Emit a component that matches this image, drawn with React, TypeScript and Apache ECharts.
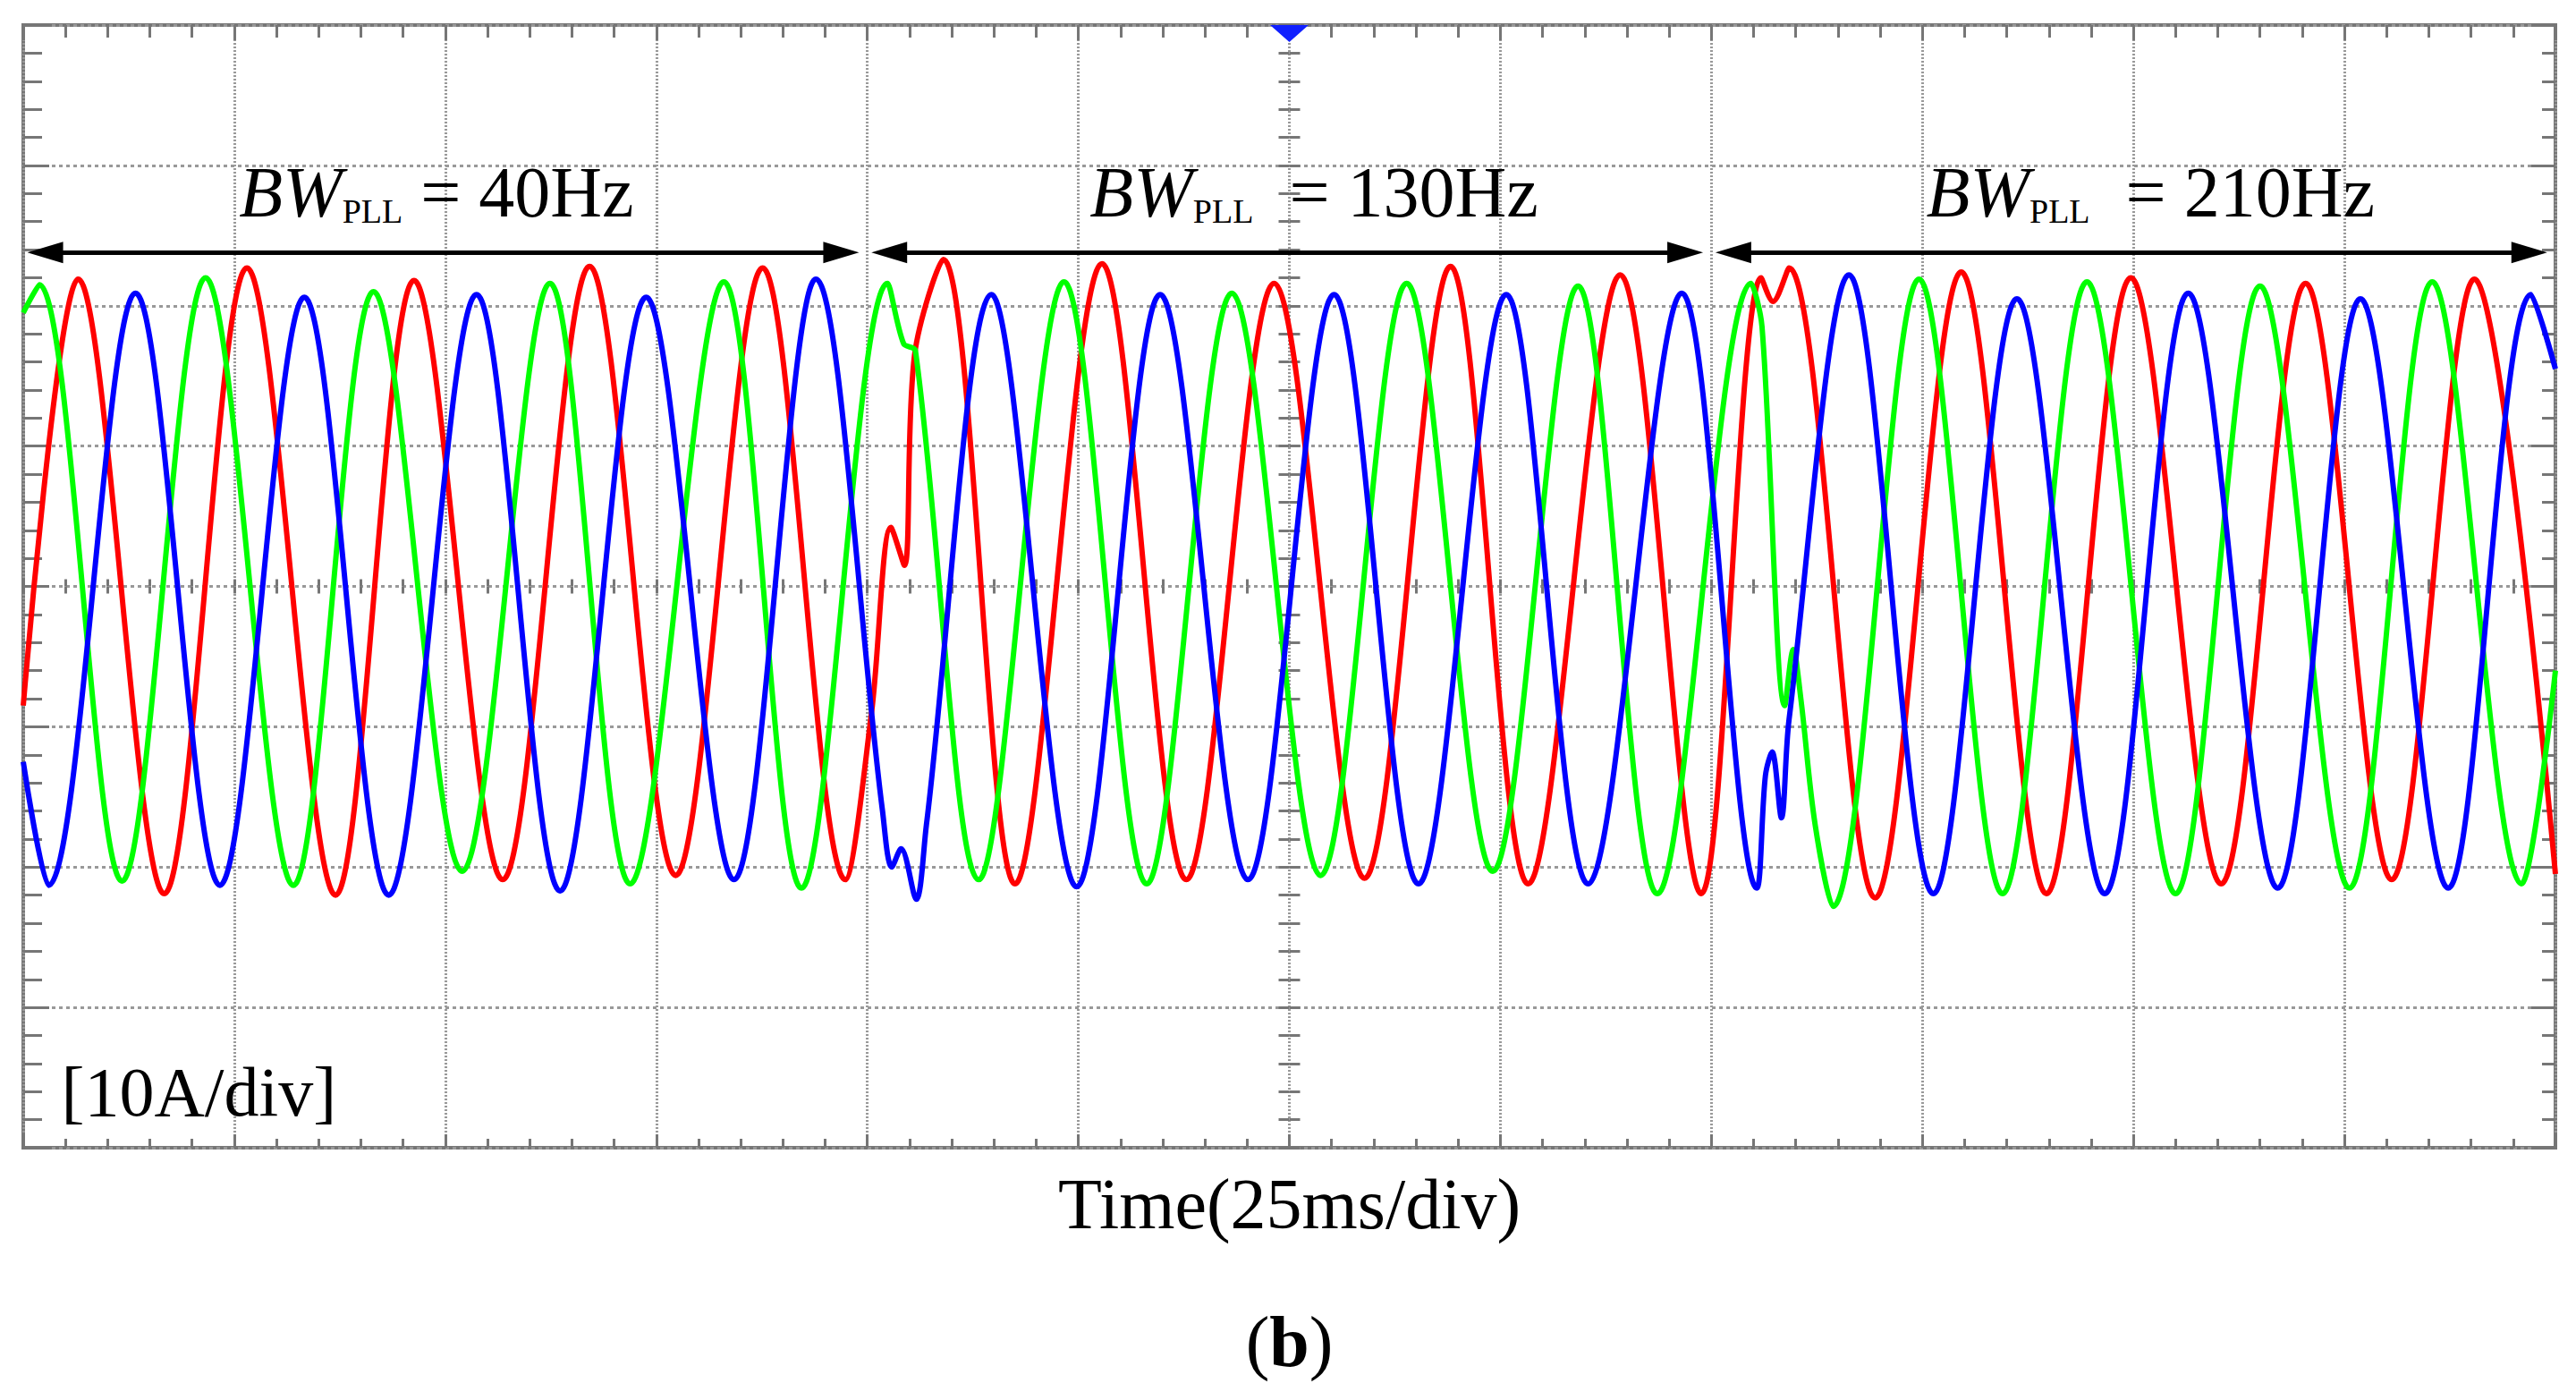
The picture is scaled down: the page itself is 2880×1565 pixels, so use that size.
import React, { useEffect, useRef } from "react";
import * as echarts from "echarts";

// ---------------- data ----------------
// time axis: 0..300 ms (12 div x 25 ms), current axis: -40..40 A (8 div x 10 A)
const TIME_RANGE = [0, 300];
const TIME_DIV = 25;
const CURRENT_RANGE = [-40, 40];
const CURRENT_DIV = 10;

// PLL bandwidth sections (ms)
const sectionBounds = [
  [0, 100],
  [100, 200],
  [200, 300],
];
const sectionLabels = ["40Hz", "130Hz", "210Hz"];

// phase currents: [time ms, current A] at the extrema / visible features
const phaseRed = [
  [0, -8.5], [6.5, 21.9], [16.7, -21.9], [26.5, 22.7], [37.0, -22.0], [46.3, 21.8],
  [56.8, -20.9], [67.1, 22.8], [77.3, -20.6], [87.6, 22.7], [97.4, -20.9],
  [100.5, -9.0], [102.8, 4.2], [104.4, 1.5], [105.6, 16.5], [109.0, 23.3],
  [117.5, -21.2], [127.8, 23.0], [137.8, -20.9], [148.2, 21.6], [158.9, -20.8],
  [169.1, 22.8], [178.3, -21.2], [189.2, 22.2], [198.8, -21.9], [205.9, 22.0],
  [207.3, 20.3], [209.2, 22.7], [219.4, -22.2], [229.6, 22.4], [239.7, -21.9],
  [249.7, 22.0], [260.4, -21.2], [270.4, 21.6], [280.6, -20.9], [290.4, 21.9],
  [300, -20.5],
];

const phaseGreen = [
  [0, 19.5], [1.9, 21.5], [11.7, -21.0], [21.6, 22.0], [32.0, -21.3], [41.5, 21.0],
  [52.0, -20.3], [62.4, 21.6], [71.9, -21.2], [83.0, 21.7], [92.2, -21.5],
  [102.4, 21.6], [104.3, 17.3], [105.7, 16.8], [113.2, -20.9], [123.3, 21.7],
  [133.1, -21.2], [143.2, 20.9], [153.7, -20.6], [163.9, 21.6], [174.1, -20.3],
  [184.2, 21.4], [193.6, -21.9], [204.7, 21.6], [206.0, 18.5], [208.7, -8.5],
  [209.7, -4.5], [210.6, -8.0], [212.3, -17.0], [214.4, -22.8], [224.6, 21.9],
  [234.5, -21.9], [244.5, 21.7], [255.0, -21.9], [265.0, 21.4], [275.6, -21.5],
  [285.4, 21.7], [296.0, -21.2], [300, -6.0],
];

const phaseBlue = [
  [0, -12.5], [3.0, -21.3], [13.3, 20.9], [23.3, -21.3], [33.3, 20.6], [43.3, -22.0],
  [53.7, 20.8], [63.6, -21.7], [73.8, 20.6], [84.2, -20.9], [93.9, 21.9],
  [101.8, -16.0], [102.9, -20.0], [104.0, -18.7], [105.8, -22.3], [107.0, -17.0],
  [114.7, 20.8], [124.8, -21.4], [134.7, 20.8], [145.1, -20.9], [155.3, 20.8],
  [165.3, -21.2], [175.7, 20.8], [185.4, -21.2], [196.5, 20.9], [205.4, -21.5],
  [206.4, -13.5], [207.2, -11.8], [208.3, -16.5], [209.2, -9.5], [216.3, 22.2],
  [226.3, -21.9], [236.2, 20.5], [246.6, -21.9], [256.5, 20.9], [267.1, -21.5],
  [276.9, 20.5], [287.3, -21.5], [297.1, 20.8], [300, 15.5],
];

// ---------------- layout / style ----------------
const W = 2880;
const H = 1565;
const GRID = { left: 26, top: 28, right: 23, bottom: 282 };
const PLOT_W = W - GRID.left - GRID.right;
const PLOT_H = H - GRID.top - GRID.bottom;
const SERIF = '"Liberation Serif", "Times New Roman", serif';
const TICK_COLOR = "#767676";
const GRIDLINE_COLOR = "#999999";

function xAxisOf(position: string, offset: number, inside: boolean, major: number, minor: number, split: boolean) {
  return {
    type: "value",
    position,
    offset,
    min: TIME_RANGE[0],
    max: TIME_RANGE[1],
    interval: TIME_DIV,
    axisLine: { show: false, onZero: false },
    axisLabel: { show: false },
    axisTick: { show: true, inside, length: major, lineStyle: { color: TICK_COLOR, width: 3 } },
    minorTick: { show: true, splitNumber: 5, length: minor, lineStyle: { color: TICK_COLOR, width: 3 } },
    splitLine: {
      show: split,
      lineStyle: { color: GRIDLINE_COLOR, width: 3, type: [2, 2] },
    },
  };
}

function yAxisOf(position: string, offset: number, inside: boolean, major: number, minor: number, split: boolean) {
  return {
    type: "value",
    position,
    offset,
    min: CURRENT_RANGE[0],
    max: CURRENT_RANGE[1],
    interval: CURRENT_DIV,
    axisLine: { show: false, onZero: false },
    axisLabel: { show: false },
    axisTick: { show: true, inside, length: major, lineStyle: { color: TICK_COLOR, width: 3 } },
    minorTick: { show: true, splitNumber: 5, length: minor, lineStyle: { color: TICK_COLOR, width: 3 } },
    splitLine: {
      show: split,
      lineStyle: { color: GRIDLINE_COLOR, width: 3, type: [4, 4] },
    },
  };
}

function phaseSeries(name: string, data: number[][], color: string) {
  return {
    type: "line",
    name,
    data,
    xAxisIndex: 0,
    yAxisIndex: 0,
    symbol: "none",
    showSymbol: false,
    smooth: 0.33,
    silent: true,
    z: 3,
    lineStyle: { color, width: 6 },
    itemStyle: { color },
  };
}

function buildOption() {
  const arrowY = 23.8;
  const labelY = 28.1;
  const labelLeft = [25.5, 126.3, 225.4];
  const labelText = sectionLabels.map(
    (f, i) => `{bw|BW}{pll|PLL}{eq|${i === 0 ? " " : "  "}= ${f}}`
  );
  const rich = {
    bw: { fontFamily: SERIF, fontSize: 80, fontStyle: "italic", lineHeight: 80, verticalAlign: "bottom", color: "#000" },
    pll: { fontFamily: SERIF, fontSize: 38, lineHeight: 51, verticalAlign: "bottom", color: "#000" },
    eq: { fontFamily: SERIF, fontSize: 80, lineHeight: 80, verticalAlign: "bottom", color: "#000" },
  };

  const markPoints: any[] = sectionLabels.map((_, i) => ({
    coord: [labelLeft[i], labelY],
    symbol: "rect",
    symbolSize: 1,
    itemStyle: { color: "rgba(0,0,0,0)" },
    label: {
      show: true,
      position: "right",
      distance: 0,
      formatter: labelText[i],
      rich,
    },
  }));
  markPoints.push({
    coord: [4.45, -36.0],
    symbol: "rect",
    symbolSize: 1,
    itemStyle: { color: "rgba(0,0,0,0)" },
    label: {
      show: true,
      position: "right",
      distance: 0,
      formatter: "[10A/div]",
      fontFamily: SERIF,
      fontSize: 78,
      color: "#000",
    },
  });
  markPoints.push({
    coord: [(TIME_RANGE[0] + TIME_RANGE[1]) / 2, CURRENT_RANGE[1]],
    symbol: "triangle",
    symbolSize: [43, 19],
    symbolRotate: 180,
    symbolOffset: [0, 9.5],
    itemStyle: { color: "#1020ff" },
    label: { show: false },
  });

  return {
    animation: false,
    backgroundColor: "#ffffff",
    grid: {
      ...GRID,
      show: true,
      borderColor: "#777777",
      borderWidth: 4,
      backgroundColor: "#ffffff",
    },
    xAxis: [
      xAxisOf("bottom", 0, true, 15, 10, true),
      xAxisOf("top", 0, true, 17, 14, false),
      xAxisOf("bottom", -PLOT_H / 2, true, 8, 8, false),
      xAxisOf("bottom", -PLOT_H / 2, false, 8, 8, false),
    ],
    yAxis: [
      yAxisOf("left", 0, true, 29, 21, true),
      yAxisOf("right", 0, true, 27, 15, false),
      yAxisOf("left", -PLOT_W / 2, true, 12, 12, false),
      yAxisOf("left", -PLOT_W / 2, false, 12, 12, false),
    ],
    series: [
      phaseSeries("ia", phaseRed, "#ff0000"),
      phaseSeries("ib", phaseGreen, "#00ff00"),
      phaseSeries("ic", phaseBlue, "#0000ff"),
      {
        type: "line",
        name: "annotations",
        data: [],
        xAxisIndex: 0,
        yAxisIndex: 0,
        silent: true,
        z: 6,
        markLine: {
          silent: true,
          animation: false,
          symbol: ["triangle", "triangle"],
          symbolSize: [24, 40],
          label: { show: false },
          lineStyle: { color: "#000", width: 5, type: "solid" },
          itemStyle: { color: "#000" },
          emphasis: { disabled: true },
          data: sectionBounds.map(([a, b]) => [
            { coord: [a + 2.6, arrowY] },
            { coord: [b - 3.1, arrowY] },
          ]),
        },
        markPoint: {
          silent: true,
          animation: false,
          data: markPoints,
        },
      },
    ],
    graphic: [
      {
        type: "text",
        x: GRID.left + PLOT_W / 2,
        y: 1346,
        style: {
          text: "Time(25ms/div)",
          fontFamily: SERIF,
          fontSize: 80,
          fill: "#000",
          align: "center",
          verticalAlign: "middle",
        },
      },
      {
        type: "text",
        x: GRID.left + PLOT_W / 2,
        y: 1500,
        style: {
          text: "{p|(}{b|b}{p|)}",
          fill: "#000",
          align: "center",
          verticalAlign: "middle",
          rich: {
            p: { fontFamily: SERIF, fontSize: 80, color: "#000" },
            b: { fontFamily: SERIF, fontSize: 80, fontWeight: "bold", color: "#000" },
          },
        },
      },
    ],
  };
}

export default function App() {
  const ref = useRef<HTMLDivElement>(null);
  useEffect(() => {
    if (!ref.current) return;
    const chart = echarts.init(ref.current, null, { renderer: "svg" });
    chart.setOption(buildOption() as any);
    return () => chart.dispose();
  }, []);
  return (
    <div
      ref={ref}
      style={{ position: "absolute", left: 0, top: 0, width: W, height: H, background: "#fff" }}
    />
  );
}
